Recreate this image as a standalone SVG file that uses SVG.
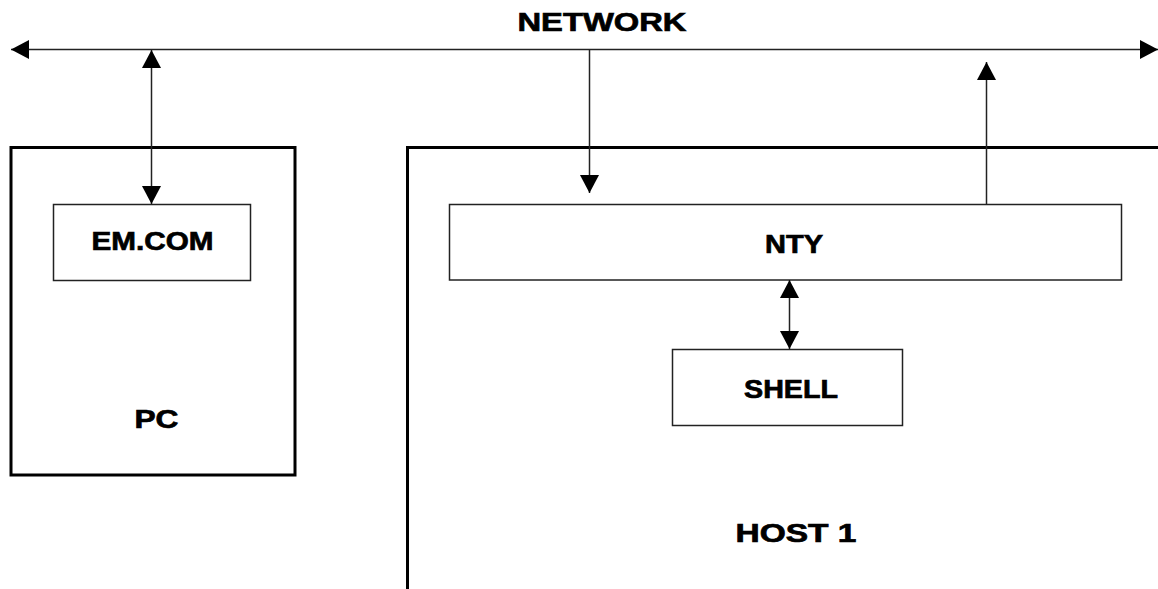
<svg xmlns="http://www.w3.org/2000/svg" width="1158" height="589" viewBox="0 0 1158 589">
  <style>
    .label { font-family: "Liberation Sans", Arial, sans-serif; font-weight: bold; font-size: 26px; fill: #000; stroke: #000; stroke-width: 0.7; text-anchor: middle; }
    .box { fill: #fff; stroke: #222; stroke-width: 1.5; }
    .frame { fill: none; stroke: #000; stroke-width: 3; }
    .link { fill: none; stroke: #222; stroke-width: 1.5; }
  </style>
  <defs>
    <marker id="arrow" markerUnits="userSpaceOnUse" markerWidth="19" markerHeight="19" refX="18" refY="9.5" orient="auto-start-reverse">
      <path d="M0,0 L18,9.5 L0,19 Z" fill="#000"/>
    </marker>
  </defs>
  <rect width="1158" height="589" fill="#fff"/>

  <!-- network bus -->
  <g id="network">
    <line class="link" x1="11" y1="49.5" x2="1158" y2="49.5" marker-start="url(#arrow)" marker-end="url(#arrow)"/>
    <text class="label" x="602" y="31" textLength="169" lengthAdjust="spacingAndGlyphs">NETWORK</text>
  </g>

  <!-- PC machine -->
  <g id="pc">
    <rect class="frame" x="11" y="147.5" width="284" height="327.5"/>
    <text class="label" x="156.5" y="428" textLength="44" lengthAdjust="spacingAndGlyphs">PC</text>
  </g>
  <g id="emcom">
    <rect class="box" x="53.5" y="204.5" width="197" height="76"/>
    <text class="label" x="152.5" y="250" textLength="122" lengthAdjust="spacingAndGlyphs">EM.COM</text>
  </g>

  <!-- host machine, open to the right and bottom -->
  <g id="host1">
    <path class="frame" d="M407.5,589 V147.5 H1158"/>
    <text class="label" x="796" y="542" textLength="121" lengthAdjust="spacingAndGlyphs">HOST 1</text>
  </g>
  <g id="nty">
    <rect class="box" x="449.5" y="204.5" width="672" height="75.5"/>
    <text class="label" x="794" y="253" textLength="58" lengthAdjust="spacingAndGlyphs">NTY</text>
  </g>
  <g id="shell">
    <rect class="box" x="672.5" y="349.5" width="230" height="76"/>
    <text class="label" x="791" y="398" textLength="94" lengthAdjust="spacingAndGlyphs">SHELL</text>
  </g>

  <!-- connectors -->
  <g id="connectors">
    <line class="link" x1="151.5" y1="50" x2="151.5" y2="204" marker-start="url(#arrow)" marker-end="url(#arrow)"/>
    <line class="link" x1="589.5" y1="50" x2="589.5" y2="193" marker-end="url(#arrow)"/>
    <line class="link" x1="986.5" y1="204" x2="986.5" y2="62" marker-end="url(#arrow)"/>
    <line class="link" x1="789.5" y1="280" x2="789.5" y2="349" marker-start="url(#arrow)" marker-end="url(#arrow)"/>
  </g>
</svg>
